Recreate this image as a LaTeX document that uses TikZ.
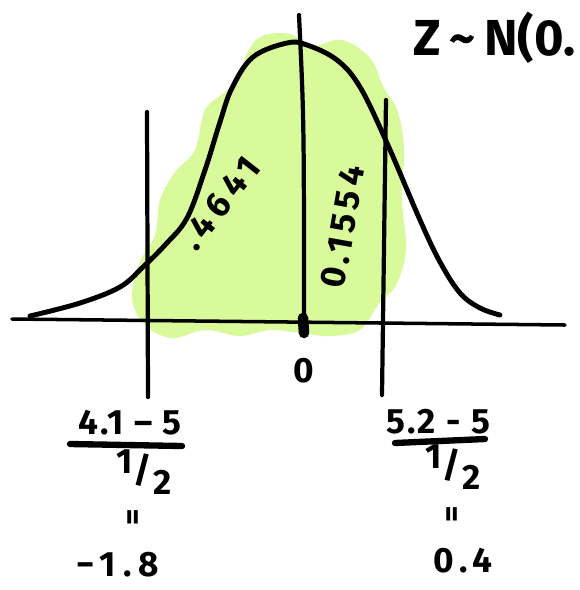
\documentclass[tikz,border=0pt]{standalone}
\usepackage{fontspec}
\setmainfont{Fira Sans}
\usepackage{xcolor}
\usepackage{tikz}
\usetikzlibrary{arrows.meta,positioning,calc}
\definecolor{blobgreen}{RGB}{217,250,154}
\newcommand{\halfsym}{{\raisebox{0.5ex}{1}\kern0.02em/\kern0.04em\raisebox{-0.6ex}{2}}}

\begin{document}
\begin{tikzpicture}[x=0.01cm, y=-0.01cm, >=Latex,
  ink/.style={line width=1.2pt, line cap=round, line join=round},
  lbl/.style={font=\bfseries, inner sep=0pt},
  wide/.style={font=\bfseries\addfontfeature{LetterSpace=#1}}]
  \useasboundingbox (0,0) rectangle (580,590);
  \clip (0,0) rectangle (580,590);
  % shaded area
  \fill[blobgreen] plot[smooth cycle, tension=0.6] coordinates {
    (247,53) (262,36) (290,34) (312,46) (342,40) (370,58) (384,88)
    (398,112) (404,150) (402,200) (406,250) (396,285) (378,305)
    (360,330) (330,336) (300,333) (270,330) (240,336) (205,330)
    (172,338) (145,325) (132,298) (140,262) (155,235) (160,200)
    (175,172) (195,150) (205,110) (225,92) (240,75)};
  % axis
  \draw[ink, line width=1pt] (12,319) -- (565,325);
  % bell curve
  \draw[ink, line width=1.4pt] plot[smooth, tension=0.6] coordinates {
    (30,316) (80,303) (120,287) (143,267) (165,245) (187,218) (205,170)
    (220,122) (232,88) (253,57) (287,43) (307,45) (337,60) (360,87)
    (387,143) (420,220) (440,262) (460,293) (480,308) (500,315)};
  % cut lines
  \draw[ink] (147,112) -- (148,397);
  \draw[ink] (299,15) .. controls (304,120) .. (304,330);
  \draw[ink, line width=3pt] (303,318) -- (304,333);
  \draw[ink] (386,100) -- (382,395);
  % areas
  \node[lbl, wide=18, rotate=52] (pleft) at (220,203) {.4641};
  \node[lbl, wide=14, rotate=80] (pright) at (343,227) {0.1554};
  \node[lbl] (zero) at (304,371) {0};
  \node[lbl, font=\Large\bfseries, anchor=west] (dist) at (413,38) {Z\,\textasciitilde\,N(0.};
  % left standardisation
  \node[lbl, wide=6] (zlnum) at (130,423) {4.1 – 5};
  \draw[ink, line width=1.8pt] (70,444) -- (182,446);
  \node[lbl] (zlden) at (144,472) {\halfsym};
  \node[lbl, rotate=90, font=\small\bfseries] (zleq) at (136,517) {=};
  \node[lbl, wide=20] (zlval) at (118,565) {−1.8};
  % right standardisation
  \node[lbl, wide=6] (zrnum) at (438,422) {5.2 - 5};
  \draw[ink, line width=1.8pt] (395,443) -- (485,439);
  \node[lbl] (zrden) at (453,467) {\halfsym};
  \node[lbl, rotate=90, font=\small\bfseries] (zreq) at (455,514) {=};
  \node[lbl, wide=16] (zrval) at (463,561) {0.4};
\end{tikzpicture}
\end{document}
